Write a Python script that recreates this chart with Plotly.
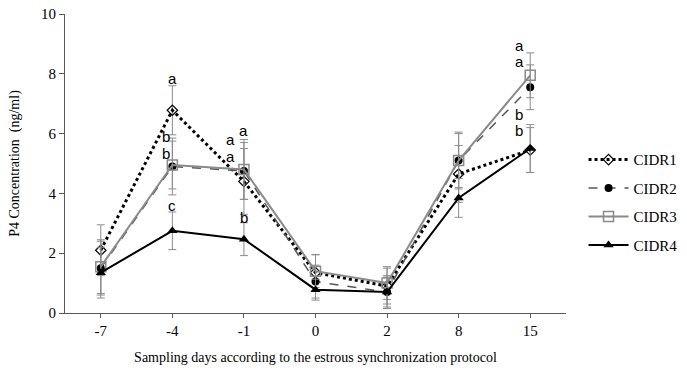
import plotly.graph_objects as go

days = ["-7", "-4", "-1", "0", "2", "8", "15"]

cidr1 = [2.1, 6.78, 4.4, 1.35, 0.9, 4.65, 5.45]
cidr1_err = [0.85, 0.82, 1.1, 0.6, 0.6, 0.95, 0.75]

cidr2 = [1.5, 4.9, 4.75, 1.05, 0.7, 5.1, 7.55]
cidr2_err = [0.9, 0.95, 0.95, 0.55, 0.55, 0.9, 0.75]

cidr3 = [1.55, 4.95, 4.8, 1.4, 1.0, 5.1, 7.95]
cidr3_err = [0.9, 0.8, 1.0, 0.55, 0.55, 0.95, 0.75]

cidr4 = [1.35, 2.75, 2.47, 0.78, 0.7, 3.85, 5.5]
cidr4_err = [0.85, 0.63, 0.55, 0.35, 0.5, 0.65, 0.8]

# significance letters: (day, y, x-shift px, letter)
letters = [
    ("-4", 7.85, 0, "a"), ("-4", 5.9, -6, "b"), ("-4", 5.35, -6, "b"), ("-4", 3.6, 0, "c"),
    ("-1", 6.1, 0, "a"), ("-1", 5.8, -13, "a"), ("-1", 5.25, -13, "a"), ("-1", 3.2, 0, "b"),
    ("15", 8.95, -11, "a"), ("15", 8.4, -11, "a"), ("15", 6.65, -11, "b"), ("15", 6.1, -11, "b"),
]

err_color = "#8c8c8c"

def err(vals):
    return dict(type="data", array=vals, visible=True, color=err_color,
                thickness=1, width=4)

fig = go.Figure()
fig.add_trace(go.Scatter(
    x=days, y=cidr1, name="CIDR1", mode="lines+markers", legendgroup="g1",
    line=dict(color="black", width=3, dash="dot"),
    marker=dict(symbol="diamond-open", size=8, color="black", line=dict(width=1.2)),
    error_y=err(cidr1_err)))
fig.add_trace(go.Scatter(
    x=days, y=cidr2, name="CIDR2", mode="lines+markers", legendgroup="g2",
    line=dict(color="#555555", width=1.5, dash="dash"),
    marker=dict(symbol="circle", size=8, color="black"),
    error_y=err(cidr2_err)))
fig.add_trace(go.Scatter(
    x=days, y=cidr3, name="CIDR3", mode="lines+markers", legendgroup="g3",
    line=dict(color="#8a8a8a", width=2),
    marker=dict(symbol="square-open", size=10, color="#8a8a8a", line=dict(width=1.5)),
    error_y=err(cidr3_err)))
fig.add_trace(go.Scatter(
    x=days, y=cidr4, name="CIDR4", mode="lines+markers", legendgroup="g4",
    line=dict(color="black", width=2),
    marker=dict(symbol="triangle-up", size=9, color="black"),
    error_y=err(cidr4_err)))

for d, yv, xs, t in letters:
    fig.add_annotation(x=days.index(d), y=yv, text=t, showarrow=False, xshift=xs,
                       xref="x", yref="y", borderpad=0,
                       font=dict(family="Liberation Sans, Arial", size=15, color="black"))

serif = "Liberation Serif, Times New Roman, serif"
fig.update_layout(
    width=687, height=380,
    margin=dict(l=65, r=121, t=14, b=67, autoexpand=False),
    paper_bgcolor="white", plot_bgcolor="white",
    font=dict(family=serif, size=14, color="black"),
    showlegend=True,
    legend=dict(x=1.035, y=0.37, xanchor="left", yanchor="middle",
                font=dict(family=serif, size=15, color="black"),
                tracegroupgap=6, itemwidth=40, bgcolor="rgba(0,0,0,0)"),
    xaxis=dict(type="category", categoryorder="array", categoryarray=days,
               range=[-0.5, 6.5], showline=True, linecolor="#595959", linewidth=1,
               ticks="outside", ticklen=4, tickcolor="#595959", showgrid=False,
               zeroline=False, tickfont=dict(size=15), automargin=False,
               title=dict(text="Sampling days according to the estrous synchronization protocol",
                          font=dict(size=14), standoff=14)),
    yaxis=dict(range=[0, 10], dtick=2, showline=True, linecolor="#595959", linewidth=1,
               ticks="outside", ticklen=5, tickcolor="#595959", showgrid=False,
               zeroline=False, tickfont=dict(size=15), automargin=False,
               title=dict(text="P4 Concentration  (ng/ml)", font=dict(size=14), standoff=18)),
)

fig.write_html("out.html", config={"displayModeBar": False},
               post_script="document.body.style.margin='0';document.body.style.padding='0';")
